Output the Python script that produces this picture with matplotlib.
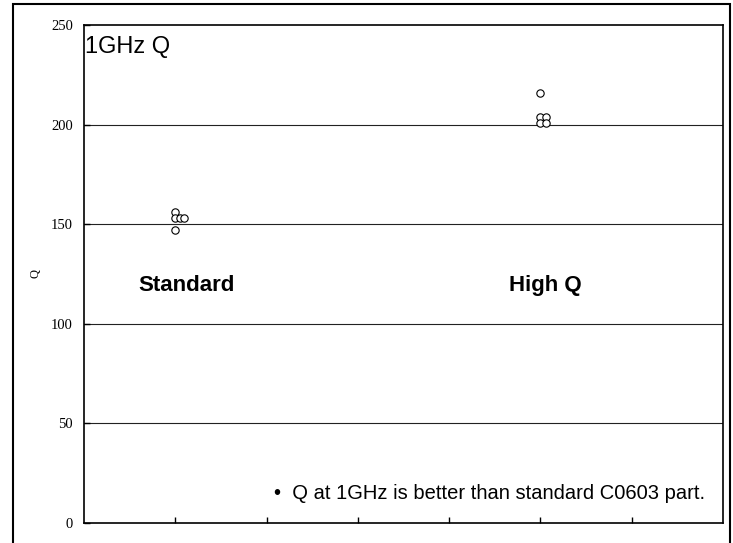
import matplotlib
matplotlib.use("Agg")
import matplotlib.pyplot as plt
from matplotlib.patches import Rectangle

# Measured Q at 1 GHz for each sample, with small horizontal offsets so
# overlapping samples stay visible
std_x = [1.0, 1.0, 1.05, 1.10, 1.0]
std_q = [156, 153, 153, 153, 147]
hq_x = [5.0, 5.0, 5.06, 5.0, 5.06]
hq_q = [216, 204, 204, 201, 201]

group_labels = ["Standard", "High Q"]
group_label_x = [1.12, 5.05]
group_label_y = [119, 119]

y_ticks = [0, 50, 100, 150, 200, 250]
x_ticks = [1, 2, 3, 4, 5, 6]

fig = plt.figure(figsize=(7.33, 5.43), dpi=100)
ax = fig.add_axes([84 / 733, 20 / 543, 639 / 733, 498 / 543])

ax.scatter(std_x, std_q, s=28, facecolors="white", edgecolors="black",
           linewidths=0.8, zorder=3)
ax.scatter(hq_x, hq_q, s=28, facecolors="white", edgecolors="black",
           linewidths=0.8, zorder=3)

ax.set_xlim(0, 7)
ax.set_ylim(0, 250)
ax.set_xticks(x_ticks)
ax.set_xticklabels([])
ax.set_yticks(y_ticks)
ax.set_yticklabels([str(v) for v in y_ticks], family="Liberation Serif",
                   fontsize=10.5)
ax.tick_params(axis="both", direction="in", length=4, width=1, color="black")
ax.tick_params(axis="y", pad=8)

for v in y_ticks[1:-1]:
    ax.axhline(v, color="#222222", linewidth=0.8, zorder=1)

for side in ["left", "bottom", "right", "top"]:
    ax.spines[side].set_linewidth(1.2)
    ax.spines[side].set_color("black")

ax.set_ylabel("Q", family="Liberation Serif", fontsize=9)
ax.yaxis.set_label_coords(-0.066, 0.5)

ax.text(0.015, 239, "1GHz Q", family="Liberation Sans", fontsize=17,
        ha="left", va="center")

for lbl, lx, ly in zip(group_labels, group_label_x, group_label_y):
    ax.text(lx, ly, lbl, family="Liberation Sans", fontsize=16,
            fontweight="bold", ha="center", va="center")

ax.text(6.80, 15, "\u2022  Q at 1GHz is better than standard C0603 part.",
        family="Liberation Sans", fontsize=14.5, ha="right", va="center")

# outer frame around the whole chart
fig.add_artist(Rectangle((13 / 733, -0.1), (730 - 13) / 733, 1.1 - 4 / 543,
                         transform=fig.transFigure, fill=False,
                         edgecolor="black", linewidth=1.5))

fig.savefig("out.png", dpi=100)
